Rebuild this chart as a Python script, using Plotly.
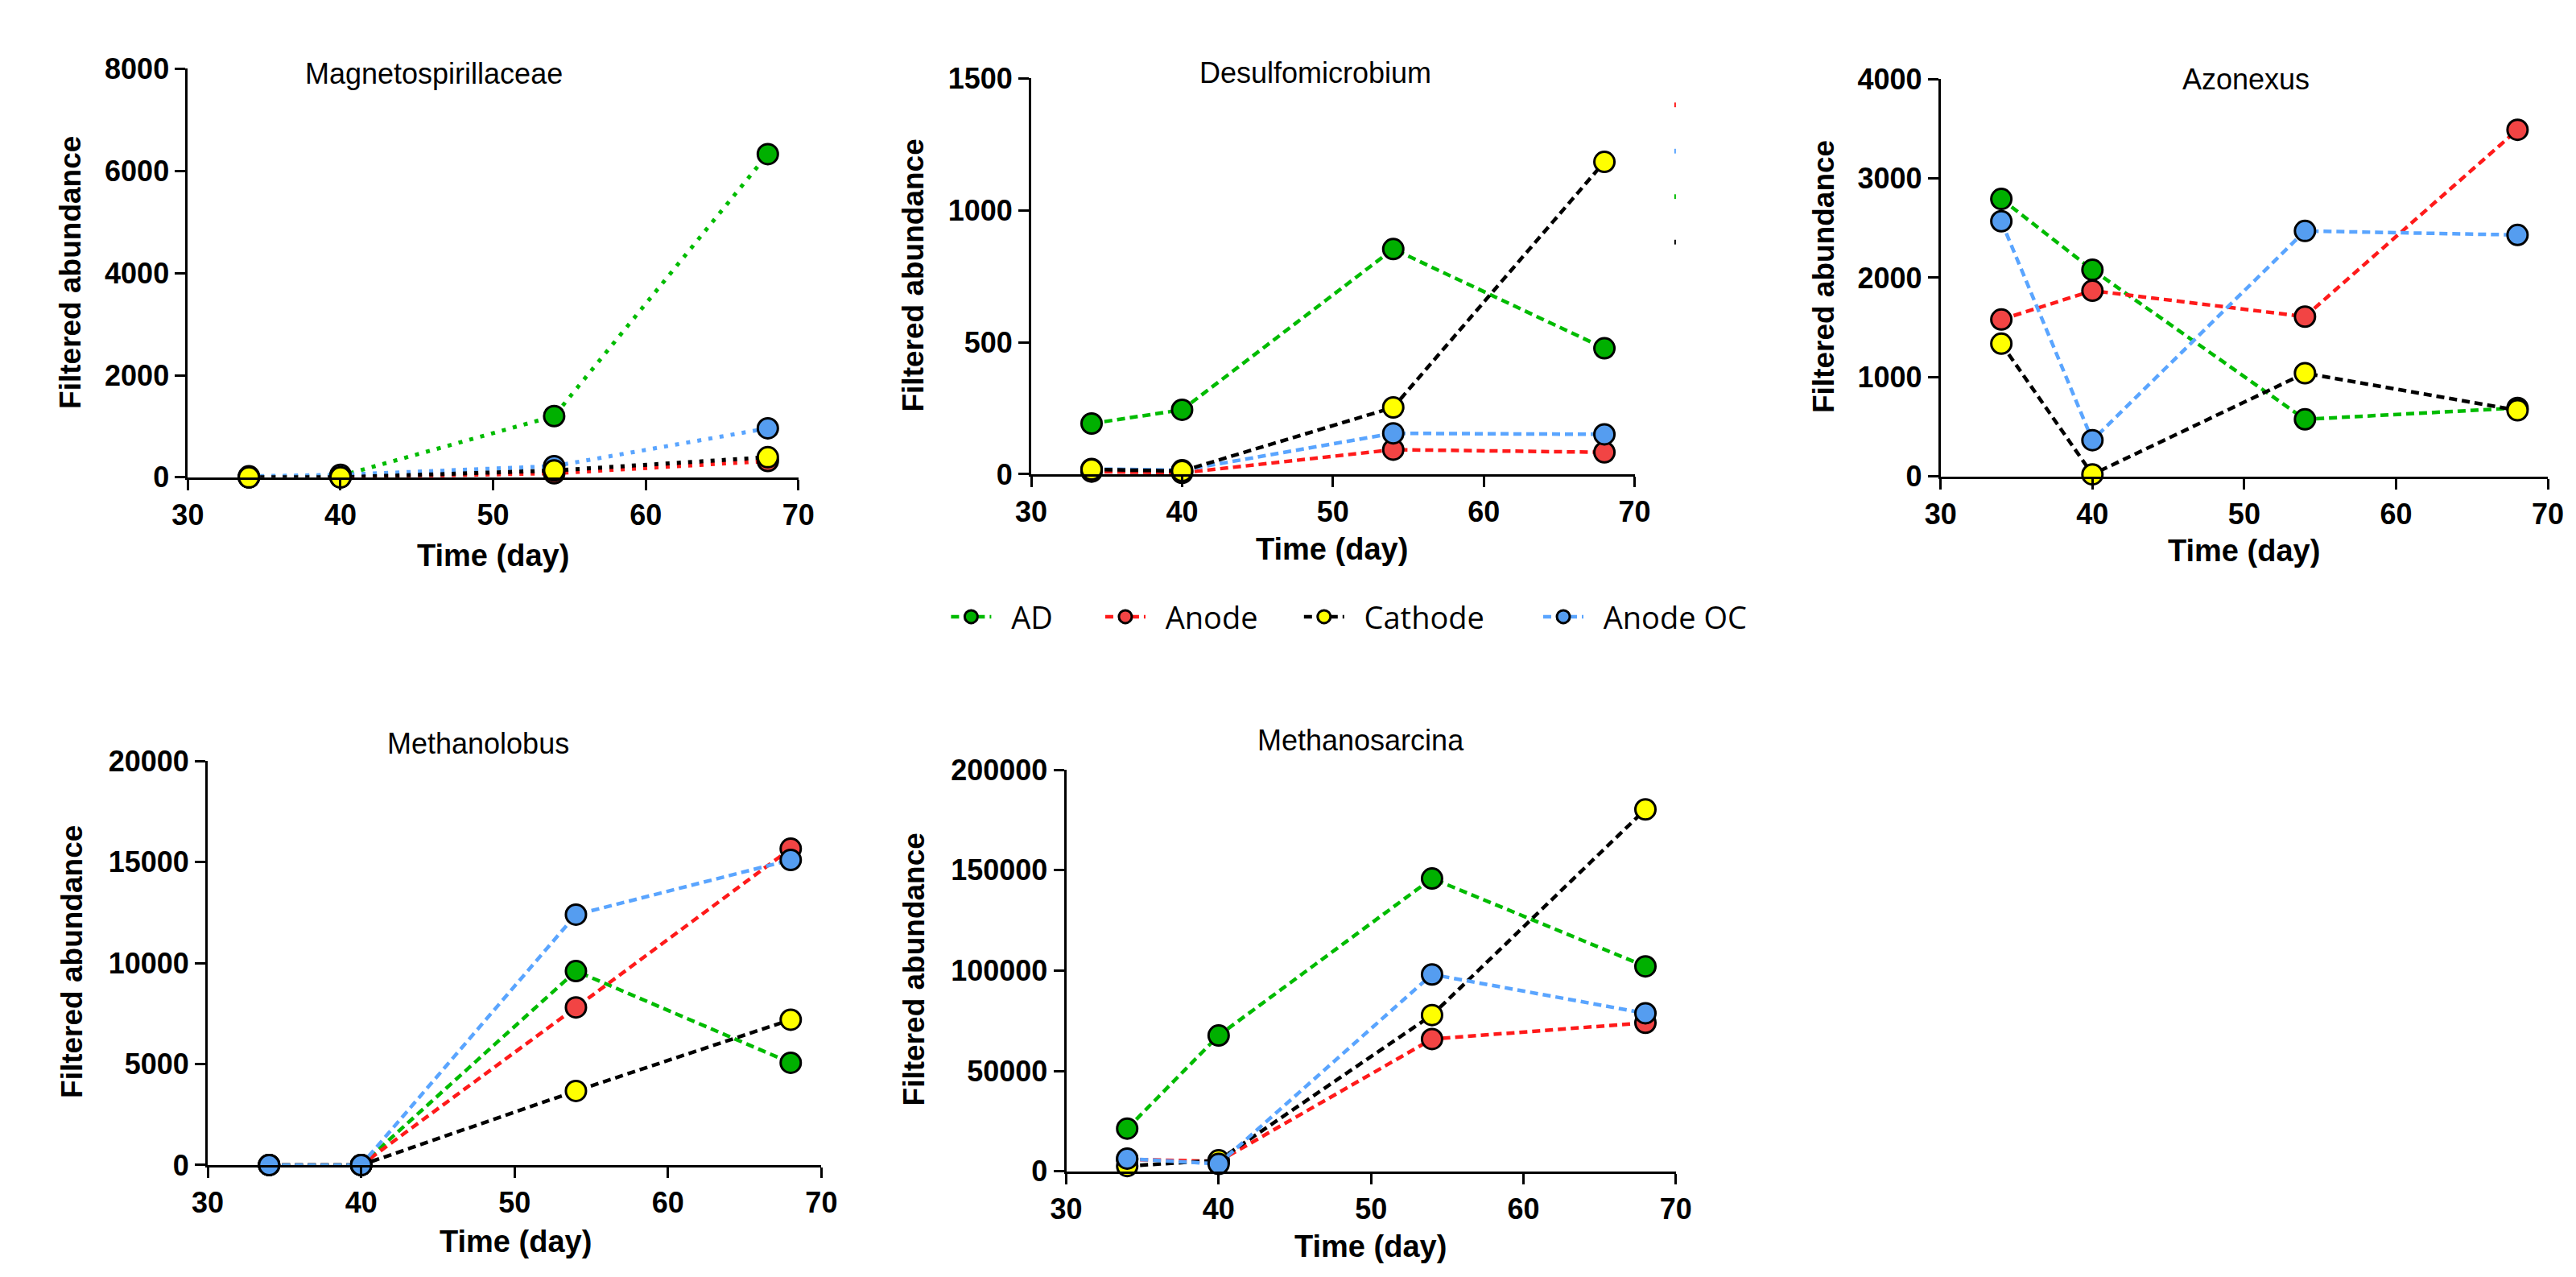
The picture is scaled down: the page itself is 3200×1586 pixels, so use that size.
import plotly.graph_objects as go

# ---------------- data ----------------
days = [34, 40, 54, 68]
series_names = ["AD", "Anode", "Cathode", "Anode OC"]

magneto = {
    "AD": [0, 30, 1200, 6330],
    "Anode": [0, 0, 80, 320],
    "Cathode": [0, 0, 134, 394],
    "Anode OC": [20, 50, 220, 960],
}
desulfo = {
    "AD": [192, 244, 853, 477],
    "Anode": [10, 5, 93, 83],
    "Cathode": [18, 12, 253, 1183],
    "Anode OC": [20, 15, 155, 151],
}
azonexus = {
    "AD": [2793, 2080, 576, 690],
    "Anode": [1580, 1870, 1609, 3489],
    "Cathode": [1337, 22, 1040, 667],
    "Anode OC": [2569, 366, 2471, 2431],
}
methanolobus = {
    "AD": [0, 0, 9607, 5066],
    "Anode": [0, 0, 7808, 15668],
    "Cathode": [0, 0, 3668, 7197],
    "Anode OC": [0, 0, 12402, 15109],
}
methanosarcina = {
    "AD": [21265, 67663, 145870, 102109],
    "Anode": [6000, 4900, 65905, 73989],
    "Cathode": [2636, 5500, 77856, 180316],
    "Anode OC": [6327, 3690, 98067, 78735],
}

titles = ["Magnetospirillaceae", "Desulfomicrobium", "Azonexus", "Methanolobus", "Methanosarcina"]
y_max = [8000, 1500, 4000, 20000, 200000]
y_dtick = [2000, 500, 1000, 5000, 50000]
x_ticks = [30, 40, 50, 60, 70]

# ---------------- styles / layout ----------------
PAGE_W, PAGE_H = 3200, 1586
BODY = 8  # default html body margin
Wf, Hf = PAGE_W - 2 * BODY, PAGE_H - 2 * BODY


def fx(px):
    return (px - BODY) / Wf


def fy(py):
    return 1 - (py - BODY) / Hf


marker_fill = {"AD": "#00B000", "Anode": "#F24444", "Cathode": "#FFFF00", "Anode OC": "#559DF0"}
line_col = {"AD": "#00BB00", "Anode": "#FF1A1A", "Cathode": "#000000", "Anode OC": "#5AA5FF"}

# panel boxes in page pixels: (x0, x1, ytop, ybottom)
boxes = [
    (216, 984, 67, 588),
    (1277, 2036, 79, 584),
    (2421, 3185, 80, 587),
    (241, 1013, 950, 1465),
    (1321, 2088, 961, 1473),
]
panels = [magneto, desulfo, azonexus, methanolobus, methanosarcina]
orders = [
    ["AD", "Anode", "Anode OC", "Cathode"],
    ["AD", "Anode", "Anode OC", "Cathode"],
    ["AD", "Anode", "Anode OC", "Cathode"],
    ["AD", "Anode", "Cathode", "Anode OC"],
    ["AD", "Anode", "Cathode", "Anode OC"],
]
dashes = ["5px,9px", "10px,6px", "10px,6px", "10px,6px", "10px,6px"]
widths = [5, 4.5, 4.5, 4.5, 4.5]

title_pos = [(526, 73), (1634, 72), (2805, 80), (581, 927), (1692, 923)]
xtitle_pos = [(600, 688), (1655, 680), (2803, 682), (628, 1563), (1704, 1569)]
ytitle_pos = [(68, 327), (1129, 330), (2274, 332), (70, 1206), (1130, 1215)]
legend_marker_x = [1203, 1397, 1647, 1948]
legend_y = 766
LEG_ITEMW = 50
NBSP = "\u00a0"

# small legend remnants next to the Desulfomicrobium panel (colour, y)
remnants = [("#FF1A1A", 113), ("#5AA5FF", 172), ("#00BB00", 230), ("#000000", 288)]

FONT = "Liberation Sans, Arial, sans-serif"

fig = go.Figure()
layout = dict(
    width=Wf, height=Hf,
    margin=dict(l=0, r=0, t=0, b=0),
    paper_bgcolor="white", plot_bgcolor="white",
    showlegend=True,
    annotations=[],
    shapes=[],
)

legend_keys = ["legend", "legend2", "legend3", "legend4"]
for k, key in enumerate(legend_keys):
    layout[key] = dict(
        orientation="h", x=fx(legend_marker_x[k] - (LEG_ITEMW / 2 + 7)), y=fy(legend_y),
        xanchor="left", yanchor="middle",
        font=dict(family="Open Sans, sans-serif", size=38, color="black"),
        bgcolor="rgba(0,0,0,0)", itemwidth=LEG_ITEMW,
    )

for i, (data, box) in enumerate(zip(panels, boxes)):
    n = "" if i == 0 else str(i + 1)
    x0, x1, yt, yb = box
    layout["xaxis" + n] = dict(
        domain=[fx(x0), fx(x1)], anchor="y" + n, range=[30, 70],
        tickvals=x_ticks, showgrid=False, zeroline=False,
        showline=True, linecolor="black", linewidth=3,
        ticks="outside", ticklen=13, tickwidth=3, tickcolor="black",
        tickfont=dict(family=FONT, size=36, color="black", weight="bold"),
    )
    layout["yaxis" + n] = dict(
        domain=[fy(yb), fy(yt)], anchor="x" + n, range=[0, y_max[i]],
        dtick=y_dtick[i], tick0=0, tickformat="d", showgrid=False, zeroline=False,
        showline=True, linecolor="black", linewidth=3,
        ticks="outside", ticklen=13, tickwidth=3, tickcolor="black",
        tickfont=dict(family=FONT, size=36, color="black", weight="bold"),
    )
    for name in orders[i]:
        idx = series_names.index(name)
        fig.add_trace(go.Scatter(
            x=days, y=data[name], name=NBSP * 2 + name, mode="lines+markers",
            xaxis="x" + n, yaxis="y" + n,
            line=dict(color=line_col[name], width=widths[i], dash=dashes[i]),
            marker=dict(size=25, color=marker_fill[name], line=dict(color="black", width=3)),
            cliponaxis=False, showlegend=(i == 1), legend=legend_keys[idx],
        ))
    tx, ty = title_pos[i]
    layout["annotations"].append(dict(
        text=titles[i], x=fx(tx), y=fy(ty), xref="paper", yref="paper",
        showarrow=False, xanchor="center", yanchor="middle",
        font=dict(family=FONT, size=36, color="black"),
    ))
    tx, ty = xtitle_pos[i]
    layout["annotations"].append(dict(
        text="Time (day)", x=fx(tx), y=fy(ty), xref="paper", yref="paper",
        showarrow=False, xanchor="center", yanchor="middle",
        font=dict(family=FONT, size=38, color="black", weight="bold"),
    ))
    tx, ty = ytitle_pos[i]
    layout["annotations"].append(dict(
        text="Filtered abundance", x=fx(tx), y=fy(ty), xref="paper", yref="paper",
        showarrow=False, xanchor="center", yanchor="middle", textangle=-90,
        font=dict(family=FONT, size=37, color="black", weight="bold"),
    ))

for col, ry in remnants:
    layout["shapes"].append(dict(
        type="line", xref="paper", yref="paper",
        x0=fx(2087), x1=fx(2087), y0=fy(ry - 3), y1=fy(ry + 3),
        line=dict(color=col, width=2),
    ))

fig.update_layout(**layout)
fig.write_html("out.html")
